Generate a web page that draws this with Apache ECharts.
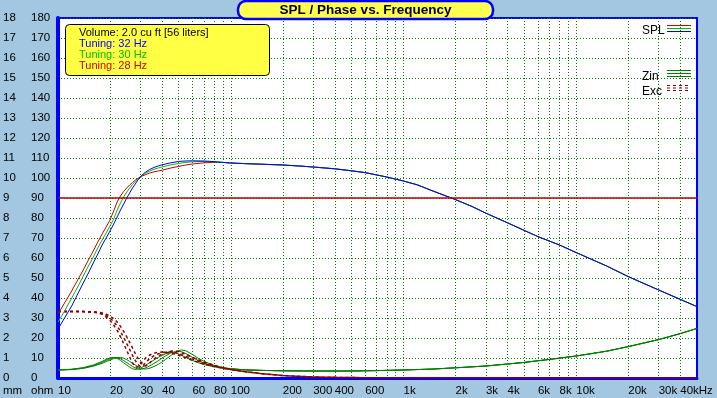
<!DOCTYPE html>
<html>
<head>
<meta charset="utf-8">
<title>SPL / Phase vs. Frequency</title>
<script src="https://cdn.jsdelivr.net/npm/echarts@6/dist/echarts.min.js"></script>
<style>
  html, body { margin: 0; padding: 0; background: #a3c7e0; }
  #chart { width: 717px; height: 398px; }
</style>
</head>
<body>
<div id="chart"></div>
<script>
// frequency grid / labels (Hz)
var gridTicks = [20,30,40,50,60,70,80,90,100,200,300,400,500,600,700,800,900,
  1000,2000,3000,4000,5000,6000,7000,8000,9000,10000,20000,30000,40000];
var labelTicks = [10,20,30,40,60,80,100,200,300,400,600,1000,2000,3000,4000,6000,8000,10000,20000,30000,40000];

// SPL (dB), three tunings below 100 Hz, shared tail above
var splLowFreq = [10,11,12,13,14,15,16,17,18,19,20,21,22,23,24,25,26,27,28,29,30,32,34,36,38,40,45,50,55,60,70,80,90];
var spl32 = [24.5,30.5,36,42,47.5,52.5,57.5,62,66.5,70,73.5,77,80.5,84,87,90,92.5,95,97,99,100.7,102.8,104.3,105.3,106,106.6,107.6,108.3,108.5,108.6,108.5,108.2,107.8];
var spl30 = [28,34,40,45.5,51,56,60.5,65,69,72.5,76,79.5,84,87.5,90.5,93,95,96.8,98.3,99.6,100.7,102.3,103.5,104.4,105,105.5,106.6,107.3,107.8,108.1,108.3,108.1,107.8];
var spl28 = [32,38,43.5,49,54,59,63.5,68,72,75.5,79,83.5,88,91,93.3,95,96.5,97.8,98.9,99.8,100.6,101.6,102.5,103.1,103.5,103.9,105,105.8,106.5,107,107.6,107.8,107.8];
var splTailFreq = [100,120,150,200,250,300,400,500,600,800,1000,1200,1500,2000,2500,3000,4000,5000,6000,8000,10000,15000,20000,30000,40000,50000];
var splTail = [107.5,107.2,106.9,106.5,106,105.5,104.6,103.6,102.7,100.5,98.5,96.6,93.3,89.2,85.7,82.4,77.6,73.8,70.7,66.5,62.7,56,50.7,44,39.3,35.7];

// impedance (ohm)
var zinLowFreq = [10,12,14,16,18,19,20,21,22,23,24,25,26,27,28,29,30,31,32,33,35,38,40,42,45,48,50,52,55,60,65,70,80,90];
var zin32 = [4.0,4.2,4.8,5.9,7.3,8.2,9.0,9.7,10.2,10.3,9.9,9.2,8.3,7.4,6.5,5.7,5.0,4.6,4.5,4.6,5.3,6.8,8.0,9.3,11.3,12.9,13.7,14.0,13.6,11.8,9.8,8.3,6.3,5.3];
var zin30 = [4.0,4.3,5.0,6.2,7.8,8.8,9.6,10.2,10.2,9.6,8.7,7.7,6.7,5.8,5.0,4.5,4.4,4.6,5.0,5.5,6.7,8.6,9.9,11.1,12.5,13.3,13.4,13.1,12.2,10.3,8.7,7.5,5.9,5.1];
var zin28 = [4.0,4.4,5.2,6.5,8.3,9.3,10.1,10.3,9.8,8.8,7.6,6.5,5.4,4.6,4.3,4.5,5.0,5.6,6.3,7.0,8.4,10.3,11.3,12.1,12.8,12.6,12.0,11.3,10.3,8.8,7.6,6.7,5.6,5.0];
var zinTailFreq = [100,120,150,200,300,500,700,1000,1500,2000,3000,4000,5000,7000,10000,15000,20000,30000,40000,50000];
var zinTail = [4.6,4.1,3.8,3.6,3.5,3.5,3.7,4,4.5,5.1,6,7,7.8,9.3,11,13.4,15.7,19.2,22.2,24.8];

// cone excursion (mm)
var excLowFreq = [10,12,14,16,17,18,19,20,21,22,23,24,25,26,27,28,29,30,31,32,33,34,35,37,40,43,46,50,55,60,70,80,90];
var exc32 = [3.32,3.32,3.32,3.31,3.29,3.25,3.19,3.1,2.97,2.8,2.58,2.33,2.06,1.78,1.5,1.23,0.99,0.8,0.66,0.6,0.65,0.75,0.86,1.03,1.2,1.3,1.35,1.32,1.18,1.03,0.8,0.64,0.52];
var exc30 = [3.32,3.32,3.32,3.3,3.27,3.22,3.13,3.0,2.82,2.6,2.33,2.03,1.72,1.42,1.13,0.88,0.68,0.57,0.62,0.75,0.87,0.97,1.05,1.17,1.27,1.31,1.3,1.22,1.08,0.95,0.74,0.6,0.5];
var exc28 = [3.32,3.32,3.32,3.29,3.25,3.18,3.05,2.88,2.65,2.38,2.06,1.72,1.38,1.05,0.75,0.55,0.55,0.7,0.85,0.98,1.08,1.15,1.2,1.27,1.3,1.28,1.23,1.13,1.0,0.88,0.7,0.57,0.48];
var excTailFreq = [100,120,150,200,300,500,1000,50000];
var excTail = [0.42,0.32,0.22,0.12,0.05,0.02,0.01,0];

function pairs(f, v) {
  return f.map(function (x, i) { return [x, v[i]]; });
}

var FONT = '"Liberation Sans", Arial, sans-serif';
var chart = echarts.init(document.getElementById('chart'));

function curve(name, color, fr, vals, extra) {
  var s = {
    name: name, type: 'line', showSymbol: false, symbol: 'none', silent: true,
    data: pairs(fr, vals),
    lineStyle: { color: color, width: 1 }
  };
  for (var k in extra) s[k] = extra[k];
  return s;
}

var excStyle = { color: '#8c0000', width: 1.5, type: [3, 3] };

var option = {
  backgroundColor: '#a3c7e0',
  animation: false,
  grid: {
    left: 58, right: 20, top: 18, bottom: 20,
    show: true, backgroundColor: '#ffffff', borderColor: '#0000ff', borderWidth: 2
  },
  xAxis: {
    type: 'log', logBase: 10, min: 10, max: 50000,
    axisLine: { show: true, onZero: false, lineStyle: { color: '#0000ff', width: 3 } },
    axisTick: { show: false, customValues: gridTicks },
    splitLine: { show: true, lineStyle: { color: '#008000', type: [1, 2], width: 1 } },
    axisLabel: {
      customValues: labelTicks, align: 'left', margin: 7, color: '#000',
      fontSize: 11.5, fontFamily: FONT,
      formatter: function (v) {
        if (v === 40000) return '40kHz';
        return v >= 1000 ? (v / 1000) + 'k' : String(v);
      }
    }
  },
  yAxis: [{
    type: 'value', min: 0, max: 180, interval: 10, position: 'left',
    axisLine: { show: true, lineStyle: { color: '#0000ff', width: 4 } },
    axisTick: { show: false },
    splitLine: { show: true, lineStyle: { color: '#008000', type: [1, 2], width: 1 } },
    axisLabel: { align: 'left', margin: 27, color: '#000', fontSize: 11.5, fontFamily: FONT }
  }, {
    type: 'value', min: 0, max: 18, interval: 1, position: 'left', offset: 0,
    axisLine: { show: false }, axisTick: { show: false }, splitLine: { show: false },
    axisLabel: { align: 'left', margin: 55, color: '#000', fontSize: 11.5, fontFamily: FONT }
  }],
  series: [
    curve('Zin 28', '#008000', zinLowFreq.concat(zinTailFreq), zin28.concat(zinTail), {}),
    curve('Zin 30', '#008000', zinLowFreq.concat(zinTailFreq), zin30.concat(zinTail), {}),
    curve('Zin 32', '#008000', zinLowFreq.concat(zinTailFreq), zin32.concat(zinTail), {}),
    curve('Exc 28', '#8c0000', excLowFreq.concat(excTailFreq), exc28.concat(excTail), { yAxisIndex: 1, lineStyle: excStyle }),
    curve('Exc 30', '#8c0000', excLowFreq.concat(excTailFreq), exc30.concat(excTail), { yAxisIndex: 1, lineStyle: excStyle }),
    curve('Exc 32', '#8c0000', excLowFreq.concat(excTailFreq), exc32.concat(excTail), { yAxisIndex: 1, lineStyle: excStyle }),
    curve('SPL 28', '#d00000', splLowFreq.concat(splTailFreq), spl28.concat(splTail), {
      markLine: {
        silent: true, symbol: ['none', 'none'], label: { show: false },
        lineStyle: { color: '#c00000', type: 'solid', width: 1.5 },
        data: [{ yAxis: 90 }]
      }
    }),
    curve('SPL 30', '#00c000', splLowFreq.concat(splTailFreq), spl30.concat(splTail), {}),
    curve('SPL 32', '#0000ff', splLowFreq.concat(splTailFreq), spl32.concat(splTail), {})
  ],
  graphic: [
    // title box
    { type: 'rect', shape: { x: 238, y: 1, width: 255, height: 18, r: 8 },
      style: { fill: '#ffff50', stroke: '#0000ff', lineWidth: 2.5 }, z: 100 },
    { type: 'text', x: 365.5, y: 10.5, z: 101,
      style: { text: 'SPL / Phase vs. Frequency', fill: '#000', align: 'center', verticalAlign: 'middle',
        fontSize: 13.5, fontWeight: 'bold', fontFamily: FONT } },
    // info box
    { type: 'rect', shape: { x: 65.5, y: 24.5, width: 204, height: 51, r: 4 },
      style: { fill: '#ffff44', stroke: '#000', lineWidth: 1 }, z: 100 },
    { type: 'text', x: 79, y: 32.5, z: 101, style: { text: 'Volume: 2.0 cu ft [56 liters]', fill: '#000', verticalAlign: 'middle', fontSize: 11, fontFamily: FONT } },
    { type: 'text', x: 79, y: 43.5, z: 101, style: { text: 'Tuning: 32 Hz', fill: '#0000ff', verticalAlign: 'middle', fontSize: 11, fontFamily: FONT } },
    { type: 'text', x: 79, y: 54.5, z: 101, style: { text: 'Tuning: 30 Hz', fill: '#00c000', verticalAlign: 'middle', fontSize: 11, fontFamily: FONT } },
    { type: 'text', x: 79, y: 65.5, z: 101, style: { text: 'Tuning: 28 Hz', fill: '#d00000', verticalAlign: 'middle', fontSize: 11, fontFamily: FONT } },
    // right legend
    { type: 'text', x: 642, y: 31, z: 101, style: { text: 'SPL', fill: '#000', verticalAlign: 'middle', fontSize: 12, fontFamily: FONT } },
    { type: 'line', shape: { x1: 667, y1: 25.5, x2: 691, y2: 25.5 }, style: { stroke: '#d00000', lineWidth: 1 }, z: 101 },
    { type: 'line', shape: { x1: 667, y1: 28.5, x2: 691, y2: 28.5 }, style: { stroke: '#00c000', lineWidth: 1 }, z: 101 },
    { type: 'line', shape: { x1: 667, y1: 31.5, x2: 691, y2: 31.5 }, style: { stroke: '#0000ff', lineWidth: 1 }, z: 101 },
    { type: 'text', x: 642, y: 76.5, z: 101, style: { text: 'Zin', fill: '#000', verticalAlign: 'middle', fontSize: 12, fontFamily: FONT } },
    { type: 'line', shape: { x1: 667, y1: 70.5, x2: 691, y2: 70.5 }, style: { stroke: '#008000', lineWidth: 1 }, z: 101 },
    { type: 'line', shape: { x1: 667, y1: 73.5, x2: 691, y2: 73.5 }, style: { stroke: '#008000', lineWidth: 1 }, z: 101 },
    { type: 'line', shape: { x1: 667, y1: 76.5, x2: 691, y2: 76.5 }, style: { stroke: '#008000', lineWidth: 1 }, z: 101 },
    { type: 'text', x: 642, y: 92, z: 101, style: { text: 'Exc', fill: '#000', verticalAlign: 'middle', fontSize: 12, fontFamily: FONT } },
    { type: 'line', shape: { x1: 667, y1: 85.5, x2: 691, y2: 85.5 }, style: { stroke: '#8c0000', lineWidth: 1, lineDash: [3, 3] }, z: 101 },
    { type: 'line', shape: { x1: 667, y1: 88, x2: 691, y2: 88 }, style: { stroke: '#8c0000', lineWidth: 1, lineDash: [3, 3] }, z: 101 },
    { type: 'line', shape: { x1: 667, y1: 90.5, x2: 691, y2: 90.5 }, style: { stroke: '#8c0000', lineWidth: 1, lineDash: [3, 3] }, z: 101 },
    // axis unit captions
    { type: 'text', x: 3, y: 391, style: { text: 'mm', fill: '#000', verticalAlign: 'middle', fontSize: 11.5, fontFamily: FONT } },
    { type: 'text', x: 31, y: 391, style: { text: 'ohm', fill: '#000', verticalAlign: 'middle', fontSize: 11.5, fontFamily: FONT } }
  ]
};
chart.setOption(option);
</script>
</body>
</html>
